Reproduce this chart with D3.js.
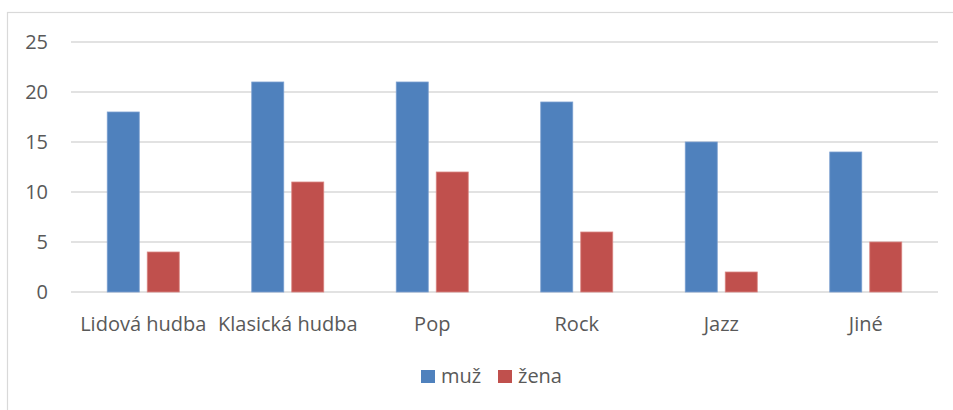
<!DOCTYPE html>
<html>
<head>
<meta charset="utf-8">
<script src="https://cdn.jsdelivr.net/npm/d3@7"></script>
<style>
  body { margin: 0; background: #fff; }
  text { font-family: "Open Sans", "Noto Sans", sans-serif; fill: #595959; }
</style>
</head>
<body>
<svg id="chart" width="953" height="410"></svg>
<script>
var categories = ["Lidová hudba", "Klasická hudba", "Pop", "Rock", "Jazz", "Jiné"];
var seriesNames = ["muž", "žena"];
var muz = [18, 21, 21, 19, 15, 14];
var zena = [4, 11, 12, 6, 2, 5];
var yTicks = [0, 5, 10, 15, 20, 25];
var colors = ["#4F81BD", "#C0504D"];

var data = categories.map(function (c, i) {
    return {key: c, values: [muz[i], zena[i]]};
});

var svg = d3.select("#chart"),
    margin = {top: 42, right: 15, bottom: 118, left: 71},
    width = 938 - margin.left,
    height = 292 - margin.top;

// chart frame
svg.append("rect")
    .attr("x", 7.5).attr("y", 12.5)
    .attr("width", 960).attr("height", 420)
    .attr("fill", "none")
    .attr("stroke", "#d9d9d9")
    .attr("stroke-width", 1.2);

var g = svg.append("g")
    .attr("transform", "translate(" + margin.left + "," + margin.top + ")");

var x0 = d3.scaleBand().domain(categories).range([0, width]).paddingInner(0).paddingOuter(0);
var y = d3.scaleLinear().domain([0, 25]).range([height, 0]);

// gridlines
g.append("g")
    .selectAll("line")
    .data(yTicks)
    .enter().append("line")
    .attr("x1", 0).attr("x2", width)
    .attr("y1", function (d) { return y(d); })
    .attr("y2", function (d) { return y(d); })
    .attr("stroke", "#d9d9d9")
    .attr("stroke-width", 1.5);

// y axis labels
var yAxis = g.append("g")
    .call(d3.axisLeft(y).tickValues(yTicks).tickSize(0).tickPadding(23));
yAxis.select(".domain").remove();
yAxis.selectAll("text").style("font-size", "20px").attr("fill", "#595959");

// x axis labels
var xAxis = g.append("g")
    .attr("transform", "translate(0," + height + ")")
    .call(d3.axisBottom(x0).tickSize(0).tickPadding(25));
xAxis.select(".domain").remove();
xAxis.selectAll("text").style("font-size", "20px").attr("fill", "#595959");

// bars
var barW = 32, gap = 8;
var groups = g.selectAll(".cat")
    .data(data)
    .enter().append("g")
    .attr("class", "cat")
    .attr("transform", function (d) { return "translate(" + (x0(d.key) + x0.bandwidth() / 2) + ",0)"; });

groups.selectAll("rect")
    .data(function (d) { return d.values; })
    .enter().append("rect")
    .attr("x", function (d, i) { return i === 0 ? -barW - gap / 2 : gap / 2; })
    .attr("y", function (d) { return y(d); })
    .attr("width", barW)
    .attr("height", function (d) { return height - y(d); })
    .attr("fill", function (d, i) { return colors[i]; })
    .attr("stroke", function (d, i) { return i === 0 ? "#7a9fd0" : "#d98582"; })
    .attr("stroke-width", 0.8);

// legend
var legend = svg.append("g").attr("transform", "translate(421,370)");
var legX = [0, 77];
seriesNames.forEach(function (name, i) {
    var item = legend.append("g").attr("transform", "translate(" + legX[i] + ",0)");
    item.append("rect")
        .attr("width", 14).attr("height", 13)
        .attr("fill", colors[i]);
    item.append("text")
        .attr("x", 20).attr("y", 13)
        .style("font-size", "20px")
        .text(name);
});
</script>
</body>
</html>
